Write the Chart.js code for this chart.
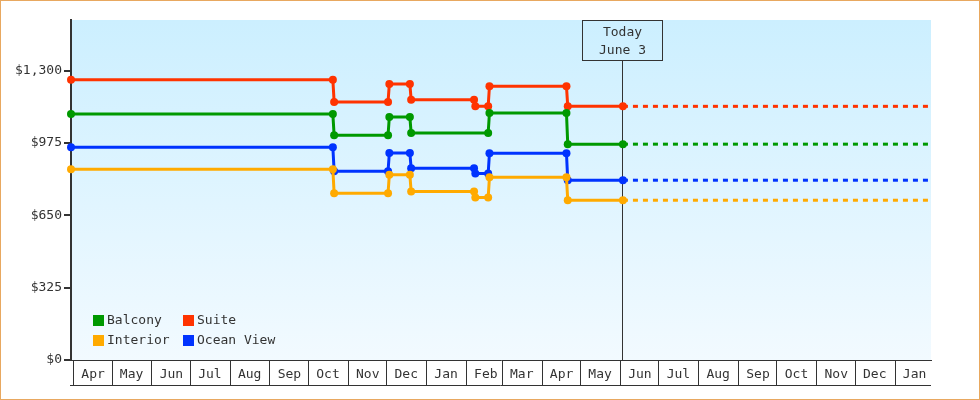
<!DOCTYPE html>
<html>
<head>
<meta charset="utf-8">
<script src="https://cdn.jsdelivr.net/npm/chart.js@4.4.0/dist/chart.umd.min.js"></script>
<style>
  html, body { margin: 0; padding: 0; background: #fff; }
  canvas { display: block; }
</style>
</head>
<body>
<canvas id="fareChart" width="980" height="400"></canvas>
<script>
// x range and "today" marker
const startDate = '2014-03-30';
const endDate = '2016-01-29';
const todayDate = '2015-06-03';
const todayText = ['Today', 'June 3'];

const monthLabels = ['Apr', 'May', 'Jun', 'Jul', 'Aug', 'Sep', 'Oct', 'Nov', 'Dec', 'Jan', 'Feb',
                     'Mar', 'Apr', 'May', 'Jun', 'Jul', 'Aug', 'Sep', 'Oct', 'Nov', 'Dec', 'Jan'];
const yTickValues = [0, 325, 650, 975, 1300];

// price history, one array of dates and one of prices per cabin
const balconyDates = ['2014-03-30', '2014-10-20', '2014-10-21', '2014-12-02', '2014-12-03', '2014-12-19',
                      '2014-12-20', '2015-02-18', '2015-02-19', '2015-04-20', '2015-04-21', '2015-06-03'];
const balconyPrices = [1105, 1105, 1010, 1010, 1092, 1092, 1020, 1020, 1110, 1110, 970, 970];

const suiteDates = ['2014-03-30', '2014-10-20', '2014-10-21', '2014-12-02', '2014-12-03', '2014-12-19', '2014-12-20',
                    '2015-02-07', '2015-02-08', '2015-02-18', '2015-02-19', '2015-04-20', '2015-04-21', '2015-06-03'];
const suitePrices = [1260, 1260, 1160, 1160, 1240, 1240, 1170, 1170, 1140, 1140, 1230, 1230, 1140, 1140];

const interiorDates = suiteDates;
const interiorPrices = [857, 857, 749, 749, 832, 832, 757, 757, 730, 730, 821, 821, 718, 718];

const oceanDates = suiteDates;
const oceanPrices = [956, 956, 848, 848, 930, 930, 862, 862, 838, 838, 929, 929, 808, 808];

const BASE = Date.parse('2014-04-01');
const day = s => (Date.parse(s) - BASE) / 86400000;

const monthStarts = monthLabels.map((m, i) => {
    const d = new Date(Date.UTC(2014, 3 + i, 1));
    return (d.getTime() - BASE) / 86400000;
});

const FONT = { family: '"DejaVu Sans Mono", monospace', size: 13 };
const INK = '#333333';

function history(label, color, dates, prices) {
    return {
        label: label,
        data: dates.map((d, i) => ({ x: day(d), y: prices[i] })),
        borderColor: color,
        backgroundColor: color,
        borderWidth: 3,
        pointRadius: 4,
        pointHoverRadius: 4,
        pointBorderWidth: 0,
        tension: 0,
        clip: false,
    };
}

function projection(color, prices) {
    const last = prices[prices.length - 1];
    return {
        label: '',
        data: [{ x: day(todayDate), y: last }, { x: day(endDate), y: last }],
        borderColor: color,
        borderWidth: 3,
        borderDash: [5, 5],
        pointRadius: 0,
        tension: 0,
        clip: false,
    };
}

const cabins = [
    { label: 'Balcony', color: '#009900', dates: balconyDates, prices: balconyPrices },
    { label: 'Suite', color: '#ff3300', dates: suiteDates, prices: suitePrices },
    { label: 'Interior', color: '#ffaa00', dates: interiorDates, prices: interiorPrices },
    { label: 'Ocean View', color: '#0033ff', dates: oceanDates, prices: oceanPrices },
];

const frame = {
    id: 'frame',
    beforeDraw(chart) {
        const { ctx, chartArea: a } = chart;
        ctx.save();
        ctx.fillStyle = '#fff';
        ctx.fillRect(0, 0, chart.width, chart.height);
        const g = ctx.createLinearGradient(0, a.top, 0, a.bottom);
        g.addColorStop(0, '#ccefff');
        g.addColorStop(1, '#f2faff');
        ctx.fillStyle = g;
        ctx.fillRect(a.left, a.top, a.right - a.left, a.bottom - a.top);
        ctx.restore();
    },
    afterDraw(chart) {
        const { ctx, chartArea: a } = chart;
        ctx.save();
        // bottom edge of the month cells
        ctx.strokeStyle = INK;
        ctx.lineWidth = 1;
        ctx.beginPath();
        ctx.moveTo(a.left - 1, a.bottom + 25.5);
        ctx.lineTo(a.right, a.bottom + 25.5);
        ctx.stroke();
        // outer border
        ctx.strokeStyle = '#e8a860';
        ctx.strokeRect(0.5, 0.5, chart.width - 1, chart.height - 1);
        ctx.restore();
    }
};

const todayMarker = {
    id: 'todayMarker',
    beforeDatasetsDraw(chart) {
        const { ctx, chartArea: a, scales } = chart;
        const x = Math.floor(scales.x.getPixelForValue(day(todayDate)) - 0.5) + 0.5;
        const boxW = 80, boxH = 40;
        ctx.save();
        ctx.strokeStyle = INK;
        ctx.lineWidth = 1;
        ctx.beginPath();
        ctx.moveTo(x, a.top + boxH);
        ctx.lineTo(x, a.bottom);
        ctx.stroke();
        ctx.strokeRect(x - boxW / 2, a.top + 0.5, boxW, boxH);
        ctx.fillStyle = INK;
        ctx.font = '13px ' + FONT.family;
        ctx.textAlign = 'center';
        ctx.textBaseline = 'middle';
        ctx.fillText(todayText[0], x, a.top + 13);
        ctx.fillText(todayText[1], x, a.top + 31);
        ctx.restore();
    }
};

const boxLegend = {
    id: 'boxLegend',
    afterDatasetsDraw(chart) {
        const { ctx, chartArea: a } = chart;
        ctx.save();
        ctx.font = '13px ' + FONT.family;
        ctx.textBaseline = 'middle';
        ctx.textAlign = 'left';
        chart.data.datasets.slice(0, cabins.length).forEach((ds, i) => {
            const x = a.left + 22 + (i % 2) * 90;
            const y = a.bottom - 45 + Math.floor(i / 2) * 20;
            ctx.fillStyle = ds.borderColor;
            ctx.fillRect(x, y, 11, 11);
            ctx.fillStyle = INK;
            ctx.fillText(ds.label, x + 14, y + 6);
        });
        ctx.restore();
    }
};

new Chart(document.getElementById('fareChart'), {
    type: 'line',
    data: {
        datasets: [
            ...cabins.map(c => history(c.label, c.color, c.dates, c.prices)),
            ...cabins.map(c => projection(c.color, c.prices)),
        ],
    },
    options: {
        responsive: false,
        animation: false,
        devicePixelRatio: 1,
        layout: { padding: { left: 0, right: 49, top: 20, bottom: 0 } },
        plugins: {
            legend: { display: false },
            tooltip: { enabled: false },
        },
        scales: {
            x: {
                type: 'linear',
                min: day(startDate),
                max: day(endDate),
                afterBuildTicks: s => { s.ticks = monthStarts.map(v => ({ value: v })); },
                afterFit: s => { s.height = 40; },
                grid: { drawOnChartArea: false, drawTicks: true, tickLength: 25, color: INK, lineWidth: 1 },
                border: { display: true, color: INK, width: 1 },
                ticks: {
                    autoSkip: false,
                    maxRotation: 0,
                    padding: -18,
                    labelOffset: 19.5,
                    color: INK,
                    font: FONT,
                    callback: (v, i) => monthLabels[i],
                },
            },
            y: {
                min: 0,
                max: 1528,
                afterBuildTicks: s => { s.ticks = yTickValues.map(v => ({ value: v })); },
                afterFit: s => { s.width = 71; },
                grid: { drawOnChartArea: false, drawTicks: true, tickLength: 7, color: INK, lineWidth: 2 },
                border: { display: true, color: INK, width: 2 },
                ticks: {
                    padding: 2,
                    color: INK,
                    font: FONT,
                    callback: v => '$' + v.toLocaleString('en-US'),
                },
            },
        },
    },
    plugins: [frame, todayMarker, boxLegend],
});
</script>
</body>
</html>
